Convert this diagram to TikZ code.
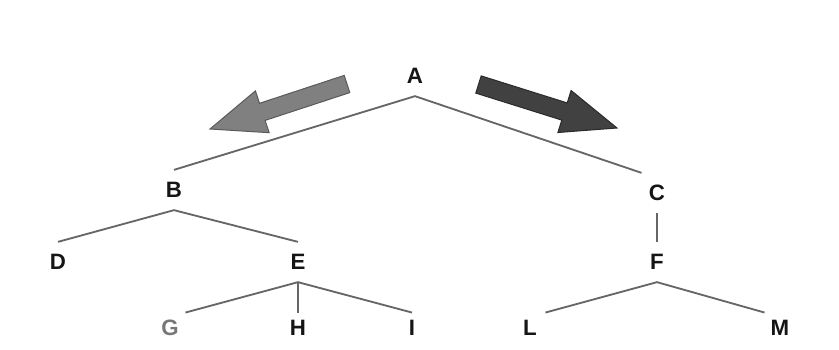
\documentclass[tikz,border=0pt]{standalone}
\usepackage{fontspec}
\setmainfont{Liberation Sans}
\definecolor{linegray}{HTML}{666666}
\definecolor{txt}{HTML}{151515}
\definecolor{ggray}{HTML}{777777}
\definecolor{lightarrow}{HTML}{808080}
\definecolor{lightedge}{HTML}{5A5A5A}
\definecolor{darkarrow}{HTML}{414141}
\definecolor{darkedge}{HTML}{2A2A2A}
\begin{document}
\begin{tikzpicture}[x=0.3mm,y=-0.3mm,
  lbl/.style={inner sep=0pt,minimum width=26,minimum height=34,text height=13.6pt,text depth=0pt,
    font=\fontsize{19}{21}\selectfont\bfseries,text=txt},
  lowlbl/.style={lbl,minimum height=26},
  edge/.style={draw=linegray,line width=0.55mm},
  bigarrow/.style={line width=0.3mm,line join=miter}]
\useasboundingbox[fill=white] (0,0) rectangle (839,349);
% arrows
\draw[bigarrow,fill=lightarrow,draw=lightedge]
  (344.2,75.4) -- (259.5,103.3) -- (255.4,90.9) -- (210,129) -- (269.2,132.7) -- (265.1,120.4) -- (349.8,92.6) -- cycle;
\draw[bigarrow,fill=darkarrow,draw=darkedge]
  (481.2,75.9) -- (567.2,102.9) -- (571.1,90.5) -- (617,128) -- (557.9,132.5) -- (561.8,120.1) -- (475.8,93.1) -- cycle;
% nodes
\node[lbl] (A) at (415,76) {A};
\node[lbl] (B) at (174,190) {B};
\node[lbl] (C) at (657,193) {C};
\node[lbl] (D) at (58,262) {D};
\node[lbl] (E) at (298,262) {E};
\node[lbl] (F) at (657,262) {F};
\node[lowlbl,text=ggray] (G) at (170,328) {G};
\node[lowlbl] (H) at (298,328) {H};
\node[lowlbl] (I) at (412,328) {I};
\node[lowlbl] (L) at (530,328) {L};
\node[lowlbl] (M) at (780,328) {M};
% connectors
\draw[edge] (B.north) -- (A.south) -- (C.north west);
\draw[edge] (D.north) -- (B.south) -- (E.north);
\draw[edge] (G.north east) -- (E.south) -- (I.north);
\draw[edge] (E.south) -- (H.north);
\draw[edge] (C.south) -- (F.north);
\draw[edge] (L.north east) -- (F.south) -- (M.north west);
\end{tikzpicture}
\end{document}
